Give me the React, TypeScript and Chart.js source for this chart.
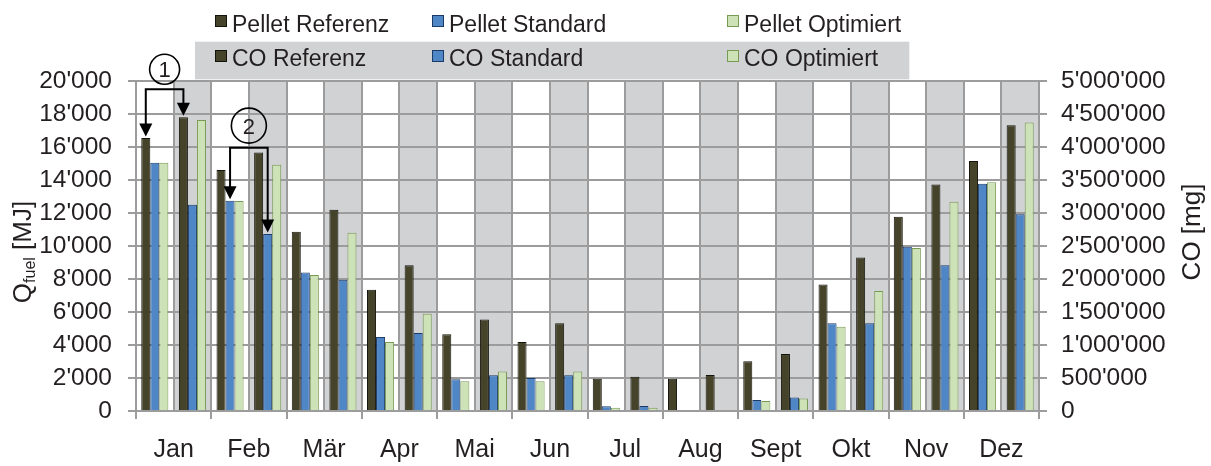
import React, { useEffect, useRef } from 'react';
import { Chart, registerables } from 'chart.js';

Chart.register(...registerables);

// ---------- data ----------
const months = ['Jan', 'Feb', 'Mär', 'Apr', 'Mai', 'Jun', 'Jul', 'Aug', 'Sept', 'Okt', 'Nov', 'Dez'];

// Q_fuel [MJ] (left axis, white half of each month)
const pelletReferenz = [16550, 14600, 10870, 7350, 4650, 4180, 1950, 1960, 3010, 7660, 11780, 15150];
const pelletStandard = [15050, 12750, 8400, 4490, 1920, 2000, 290, 0, 670, 5320, 9960, 13780];
const pelletOptimiert = [15050, 12720, 8240, 4180, 1800, 1800, 200, 0, 610, 5110, 9880, 13860];

// CO [mg] (right axis, grey half of each month)
const coReferenz = [4450000, 3915000, 3050000, 2210000, 1385000, 1330000, 520000, 545000, 863000, 2325000, 3430000, 4330000];
const coStandard = [3125000, 2680000, 1990000, 1180000, 540000, 540000, 75000, 0, 203000, 1330000, 2210000, 2980000];
const coOptimiert = [4410000, 3730000, 2700000, 1475000, 600000, 600000, 50000, 0, 188000, 1820000, 3170000, 4370000];

const leftMax = 20000;
const leftStep = 2000;
const rightMax = 5000000;
const rightStep = 500000;

const seriesLabels = ['Pellet Referenz', 'Pellet Standard', 'Pellet Optimiert', 'CO Referenz', 'CO Standard', 'CO Optimiert'];

// ---------- styles ----------
const FAMILY = "'Liberation Sans', Arial, Helvetica, sans-serif";
const TEXT = '#231f20';
const GRID = '#9c9c9c';
const SHADE = '#d1d2d4';
const REF_FILL = '#46432b';
const REF_BORDER = '#15140c';
const STD_FILL = '#4f86c6';
const STD_BORDER = '#1c3a66';
const OPT_FILL = '#cee2b8';
const OPT_BORDER = '#799a55';

const fills = [REF_FILL, STD_FILL, OPT_FILL];
const borders = [REF_BORDER, STD_BORDER, OPT_BORDER];

const fmt = (v: number) => String(Math.round(v)).replace(/\B(?=(\d{3})+(?!\d))/g, "'");

// 24 half-month categories: even = Pellet (white), odd = CO (grey)
const halfLabels: string[] = [];
months.forEach((m) => {
  halfLabels.push(m + ' Pellet');
  halfLabels.push(m + ' CO');
});
const pelletHalf = (arr: number[]) => arr.flatMap((v) => [v, null]);
const coHalf = (arr: number[]) => arr.flatMap((v) => [null, v]);

function drawArrowHead(ctx: CanvasRenderingContext2D, x: number, tipY: number) {
  const hw = 6.5;
  const h = 13;
  ctx.beginPath();
  ctx.moveTo(x, tipY);
  ctx.lineTo(x - hw, tipY - h);
  ctx.lineTo(x + hw, tipY - h);
  ctx.closePath();
  ctx.fill();
}

function drawBracket(
  ctx: CanvasRenderingContext2D,
  xa: number, ya: number, xb: number, yb: number,
  rise: number, circleRise: number, r: number, label: string
) {
  const level = Math.min(ya, yb) - rise;
  const tipA = ya - 1.5;
  const tipB = yb - 1.5;
  ctx.save();
  ctx.strokeStyle = '#000';
  ctx.fillStyle = '#000';
  ctx.lineWidth = 2;
  ctx.beginPath();
  ctx.moveTo(xa, tipA - 12);
  ctx.lineTo(xa, level);
  ctx.lineTo(xb, level);
  ctx.lineTo(xb, tipB - 12);
  ctx.stroke();
  drawArrowHead(ctx, xa, tipA);
  drawArrowHead(ctx, xb, tipB);
  const cx = (xa + xb) / 2;
  const cy = level - circleRise;
  ctx.lineWidth = 1.6;
  ctx.beginPath();
  ctx.arc(cx, cy, r, 0, Math.PI * 2);
  ctx.stroke();
  ctx.fillStyle = TEXT;
  ctx.font = `22px ${FAMILY}`;
  ctx.textAlign = 'center';
  ctx.textBaseline = 'alphabetic';
  ctx.fillText(label, cx, cy + 0.358 * 22);
  ctx.restore();
}

const decorPlugin = {
  id: 'decor',
  beforeDraw(chart: any) {
    const { ctx, chartArea } = chart;
    const xs = chart.scales.x;
    const w = xs.width / halfLabels.length;
    ctx.save();
    ctx.fillStyle = SHADE;
    for (let i = 1; i < halfLabels.length; i += 2) {
      const cx = xs.getPixelForValue(i);
      ctx.fillRect(cx - w / 2, chartArea.top, w, chartArea.bottom - chartArea.top);
    }
    ctx.restore();
  },
  afterDatasetsDraw(chart: any) {
    const ctx = chart.ctx;
    const pRef = chart.getDatasetMeta(0).data;
    const pStd = chart.getDatasetMeta(1).data;
    const cRef = chart.getDatasetMeta(3).data;
    const cStd = chart.getDatasetMeta(4).data;
    // (1): Jan Pellet Referenz -> Jan CO Referenz
    drawBracket(ctx, pRef[0].x, pRef[0].y, cRef[1].x, cRef[1].y, 28, 20, 15, '1');
    // (2): Feb Pellet Standard -> Feb CO Standard
    drawBracket(ctx, pStd[2].x, pStd[2].y, cStd[3].x, cStd[3].y, 53, 22, 17.5, '2');
  },
  afterDraw(chart: any) {
    const ctx: CanvasRenderingContext2D = chart.ctx;
    ctx.save();
    // ----- legend -----
    ctx.fillStyle = SHADE;
    ctx.fillRect(195, 41.7, 714.3, 37.6);
    const colX = [215, 432, 727];
    const sqY = [15, 50];
    const baseY = [31.5, 65.9];
    ctx.font = `23px ${FAMILY}`;
    ctx.textAlign = 'left';
    ctx.textBaseline = 'alphabetic';
    for (let row = 0; row < 2; row++) {
      for (let col = 0; col < 3; col++) {
        const ds = chart.data.datasets[row * 3 + col];
        ctx.fillStyle = ds.backgroundColor;
        ctx.fillRect(colX[col], sqY[row], 12, 12);
        ctx.strokeStyle = ds.borderColor;
        ctx.lineWidth = 1;
        ctx.strokeRect(colX[col] + 0.5, sqY[row] + 0.5, 11, 11);
        ctx.fillStyle = TEXT;
        ctx.fillText(ds.label, colX[col] + 17, baseY[row]);
      }
    }
    // ----- left axis title: Q_fuel [MJ] -----
    const big = `26px ${FAMILY}`;
    const small = `16px ${FAMILY}`;
    ctx.fillStyle = TEXT;
    ctx.translate(22, 252);
    ctx.rotate(-Math.PI / 2);
    ctx.font = big;
    const wQ = ctx.measureText('Q').width;
    const wRest = ctx.measureText(' [MJ]').width;
    ctx.font = small;
    const wSub = ctx.measureText('fuel').width;
    let px = -(wQ + wSub + wRest) / 2;
    const bl = 0.358 * 26;
    ctx.font = big;
    ctx.fillText('Q', px, bl);
    px += wQ;
    ctx.font = small;
    ctx.fillText('fuel', px, bl + 4);
    px += wSub;
    ctx.font = big;
    ctx.fillText(' [MJ]', px, bl);
    ctx.setTransform(1, 0, 0, 1, 0, 0);
    // ----- right axis title: CO [mg] -----
    ctx.translate(1191, 232);
    ctx.rotate(-Math.PI / 2);
    ctx.font = big;
    ctx.textAlign = 'center';
    ctx.fillText('CO [mg]', 0, bl);
    ctx.restore();
  },
};

export default function App() {
  const canvasRef = useRef<HTMLCanvasElement>(null);

  useEffect(() => {
    document.body.style.margin = '0';
    document.body.style.background = '#ffffff';
    const canvas = canvasRef.current!;
    const series = [pelletReferenz, pelletStandard, pelletOptimiert, coReferenz, coStandard, coOptimiert];
    const datasets = series.map((arr, i) => ({
      label: seriesLabels[i],
      data: i < 3 ? pelletHalf(arr) : coHalf(arr),
      yAxisID: i < 3 ? 'y' : 'y1',
      backgroundColor: fills[i % 3],
      borderColor: borders[i % 3],
      borderWidth: 1,
      borderSkipped: 'bottom',
      barPercentage: 1,
      categoryPercentage: 0.72,
      skipNull: true,
    }));

    const chart = new Chart(canvas, {
      type: 'bar',
      data: { labels: halfLabels, datasets: datasets as any },
      plugins: [decorPlugin],
      options: {
        responsive: false,
        animation: false,
        devicePixelRatio: 1,
        layout: { padding: { top: 81, left: 0, right: 0, bottom: 0 } },
        plugins: { legend: { display: false }, tooltip: { enabled: false } },
        scales: {
          x: {
            type: 'category',
            position: 'bottom',
            weight: 0,
            offset: true,
            grid: { offset: true, color: GRID, lineWidth: 2, drawTicks: false },
            border: { display: true, color: GRID, width: 2 },
            ticks: { display: false },
            afterFit: (s: any) => { s.height = 0; },
          },
          x2: {
            type: 'category',
            position: 'bottom',
            weight: 1,
            labels: months,
            offset: true,
            grid: { offset: true, drawOnChartArea: false, drawTicks: true, tickLength: 8, color: GRID, lineWidth: 2 },
            border: { display: false },
            ticks: { font: { family: FAMILY, size: 25 }, color: TEXT, padding: 16, maxRotation: 0, autoSkip: false },
            afterFit: (s: any) => { s.height = 55; },
          },
          y: {
            type: 'linear',
            position: 'left',
            min: 0,
            max: leftMax,
            grid: { color: GRID, lineWidth: 2, tickLength: 8, drawTicks: true },
            border: { color: GRID, width: 2 },
            ticks: {
              stepSize: leftStep,
              autoSkip: false,
              font: { family: FAMILY, size: 24.5 },
              color: TEXT,
              padding: 16,
              callback: (v: any) => fmt(Number(v)),
            },
            afterFit: (s: any) => { s.width = 136; },
          },
          y1: {
            type: 'linear',
            position: 'right',
            min: 0,
            max: rightMax,
            grid: { drawOnChartArea: false, color: GRID, lineWidth: 2, tickLength: 8, drawTicks: true },
            border: { color: GRID, width: 2 },
            ticks: {
              stepSize: rightStep,
              autoSkip: false,
              font: { family: FAMILY, size: 24.5 },
              color: TEXT,
              padding: 14,
              callback: (v: any) => fmt(Number(v)),
            },
            afterFit: (s: any) => { s.width = 172; },
          },
        },
      } as any,
    });
    return () => chart.destroy();
  }, []);

  return (
    <div style={{ width: 1211, height: 466, position: 'relative' }}>
      <canvas ref={canvasRef} width={1211} height={466} style={{ width: 1211, height: 466, display: 'block' }} />
    </div>
  );
}
